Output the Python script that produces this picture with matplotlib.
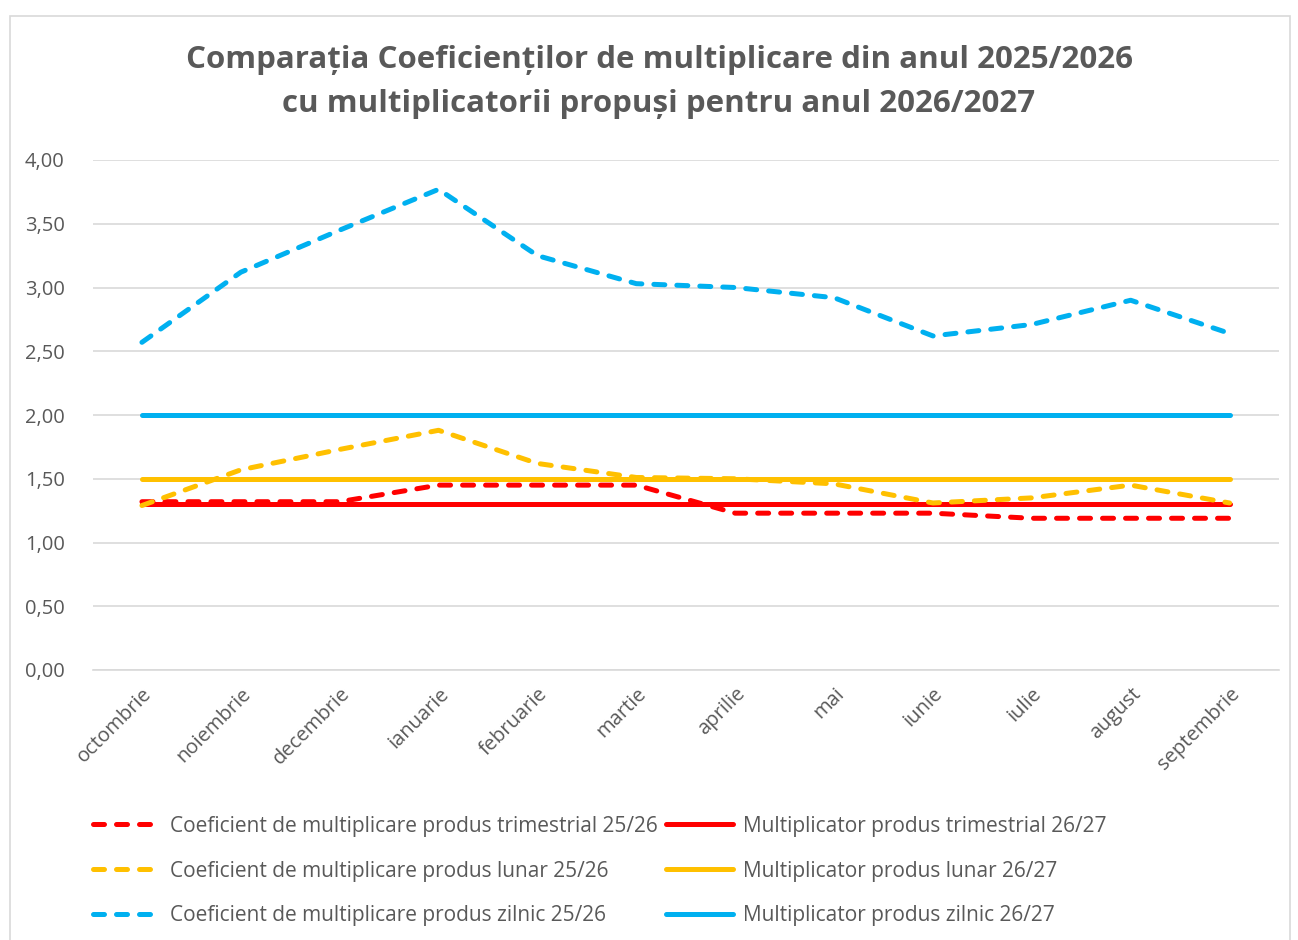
import matplotlib
matplotlib.use("Agg")
import matplotlib.pyplot as plt
from matplotlib.patches import Rectangle

months = ["octombrie", "noiembrie", "decembrie", "ianuarie", "februarie", "martie",
          "aprilie", "mai", "iunie", "iulie", "august", "septembrie"]

coef_trim = [1.32, 1.32, 1.32, 1.45, 1.45, 1.45, 1.23, 1.23, 1.23, 1.19, 1.19, 1.19]
coef_lunar = [1.29, 1.57, 1.73, 1.88, 1.62, 1.51, 1.50, 1.46, 1.31, 1.35, 1.45, 1.31]
coef_zilnic = [2.57, 3.12, 3.45, 3.77, 3.25, 3.03, 3.00, 2.92, 2.62, 2.71, 2.90, 2.64]
mult_trim = [1.30] * 12
mult_lunar = [1.50] * 12
mult_zilnic = [2.00] * 12

labels = ["Coeficient de multiplicare produs trimestrial 25/26",
          "Coeficient de multiplicare produs lunar 25/26",
          "Coeficient de multiplicare produs zilnic 25/26",
          "Multiplicator produs trimestrial 26/27",
          "Multiplicator produs lunar 26/27",
          "Multiplicator produs zilnic 26/27"]

yticks = [0.0, 0.5, 1.0, 1.5, 2.0, 2.5, 3.0, 3.5, 4.0]

RED = "#FF0000"
YEL = "#FFC000"
BLU = "#00B0F0"
GREY = "#595959"

plt.rcParams['font.family'] = ['Open Sans', 'DejaVu Sans']

fig = plt.figure(figsize=(12.98, 9.40), dpi=100)
W, H = 1298, 940
ax = fig.add_axes([92.5 / W, 1 - 670 / H, (1279 - 92.5) / W, (670 - 160) / H])

fig.patches.append(Rectangle((10 / W, -0.01), (1290 - 10) / W, 1 - 16 / H + 0.01,
                             transform=fig.transFigure, fill=False,
                             edgecolor="#D9D9D9", linewidth=1.2))

x = list(range(len(months)))
lw = 3.6
dash = (2.2, 2.4)

series = [
    (coef_trim, RED, True),
    (coef_lunar, YEL, True),
    (coef_zilnic, BLU, True),
    (mult_trim, RED, False),
    (mult_lunar, YEL, False),
    (mult_zilnic, BLU, False),
]
handles = []
zorders = [5, 5, 5, 3, 3, 3]
for (vals, col, dashed), lab, zo in zip(series, labels, zorders):
    if dashed:
        h, = ax.plot(x, vals, color=col, lw=lw, linestyle=(0, dash),
                     dash_capstyle='round', solid_capstyle='round', label=lab, zorder=zo)
    else:
        h, = ax.plot(x, vals, color=col, lw=lw, solid_capstyle='round', label=lab, zorder=zo)
    handles.append(h)

ax.set_xlim(-0.5, 11.5)
ax.set_ylim(0, 4)
ax.set_yticks(yticks)
ax.set_yticklabels([f"{v:.2f}".replace(".", ",") for v in yticks])
ax.set_xticks(x)
ax.set_xticklabels(months, rotation=45, ha="right", rotation_mode="anchor")
ax.tick_params(axis="both", length=0, colors=GREY, labelsize=14.5)
ax.tick_params(axis="y", pad=20)
ax.tick_params(axis="x", pad=10)
ax.grid(axis="y", color="#D9D9D9", linewidth=1.2)
ax.set_axisbelow(True)
for s in ["top", "right", "left"]:
    ax.spines[s].set_visible(False)
ax.spines["bottom"].set_color("#D9D9D9")
ax.spines["bottom"].set_linewidth(1.2)

fig.text(659 / W, 1 - 82 / H,
         "Comparația Coeficienților de multiplicare din anul 2025/2026\ncu multiplicatorii propuși pentru anul 2026/2027",
         ha="center", va="center", fontsize=22.5, fontweight="bold", color=GREY,
         linespacing=1.6)

leg = fig.legend(handles=handles, ncol=2, loc="center",
                 bbox_to_anchor=(600 / W, 1 - 871 / H), frameon=False,
                 fontsize=15, labelcolor=GREY, handlelength=3.2,
                 columnspacing=0.4, labelspacing=1.15, handletextpad=0.5)

fig.savefig("out.png", dpi=100)
